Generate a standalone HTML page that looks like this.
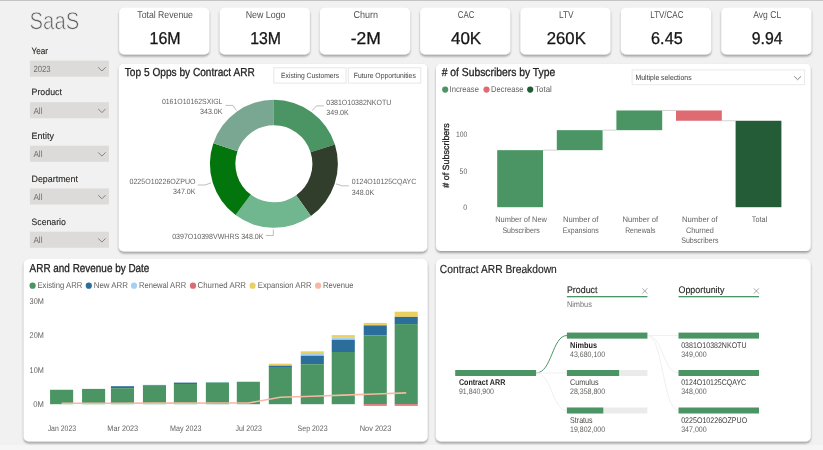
<!DOCTYPE html>
<html lang="en"><head><meta charset="utf-8"><title>SaaS</title>
<style>
html,body{margin:0;padding:0}
body{width:823px;height:450px;overflow:hidden;background:#f1f1f1;font-family:"Liberation Sans", sans-serif;position:relative}
.topbar{position:absolute;left:0;top:0;width:823px;height:1px;background:#c4c4c4}
.botbar{position:absolute;left:0;top:445px;width:823px;height:5px;background:#f6f6f6}
svg{position:absolute;left:0;top:0;overflow:visible}
svg text{font-family:"Liberation Sans", sans-serif;text-rendering:geometricPrecision}
</style></head><body>
<div class="topbar"></div><div class="botbar"></div>

<svg width="823" height="450" viewBox="0 0 823 450" role="img" aria-label="SaaS dashboard">
<defs><filter id="sh" x="-5%" y="-10%" width="110%" height="125%"><feGaussianBlur in="SourceAlpha" stdDeviation="0.55"/><feOffset dx="0.1" dy="0.4" result="o1"/><feComponentTransfer in="o1" result="s1"><feFuncA type="linear" slope="0.38"/></feComponentTransfer><feGaussianBlur in="SourceAlpha" stdDeviation="0.9"/><feOffset dx="0.3" dy="1.5" result="o2"/><feComponentTransfer in="o2" result="s2"><feFuncA type="linear" slope="0.34"/></feComponentTransfer><feMerge><feMergeNode in="s1"/><feMergeNode in="s2"/><feMergeNode in="SourceGraphic"/></feMerge></filter></defs>
<g filter="url(#sh)">
<rect x="119.10000000000001" y="7.2" width="90.3" height="47.2" rx="5" fill="#fff"/>
<rect x="219.6" y="7.2" width="90.3" height="47.2" rx="5" fill="#fff"/>
<rect x="319.8" y="7.2" width="90.3" height="47.2" rx="5" fill="#fff"/>
<rect x="420.09999999999997" y="7.2" width="90.3" height="47.2" rx="5" fill="#fff"/>
<rect x="520.3000000000001" y="7.2" width="90.3" height="47.2" rx="5" fill="#fff"/>
<rect x="620.9000000000001" y="7.2" width="90.3" height="47.2" rx="5" fill="#fff"/>
<rect x="721.2" y="7.2" width="90.3" height="47.2" rx="5" fill="#fff"/>
<rect x="118.7" y="63.4" width="308.6" height="188.0" rx="5" fill="#fff"/>
<rect x="436.0" y="63.4" width="374.8" height="187.7" rx="5" fill="#fff"/>
<rect x="23.6" y="259.1" width="404.1" height="182.4" rx="5" fill="#fff"/>
<rect x="435.8" y="259.0" width="375.0" height="182.5" rx="5" fill="#fff"/>
</g>
<rect x="29.9" y="60.6" width="79" height="16.1" fill="#dddbd9"/>
<rect x="29.9" y="102.2" width="79" height="16.1" fill="#dddbd9"/>
<rect x="29.9" y="145.7" width="79" height="16.1" fill="#dddbd9"/>
<rect x="29.9" y="188.4" width="79" height="16.1" fill="#dddbd9"/>
<rect x="29.9" y="231.7" width="79" height="16.1" fill="#dddbd9"/>
<text x="29.6" y="28.6" font-size="24.2" fill="#5c5c5c" stroke="#f1f1f1" stroke-width="0.7" textLength="49.6" lengthAdjust="spacingAndGlyphs">SaaS</text>
<text x="31.5" y="53.5" font-size="9.2" fill="#252423" textLength="16.6" lengthAdjust="spacingAndGlyphs" stroke="#252423" stroke-width="0.1">Year</text>
<text x="31.5" y="95.3" font-size="9.2" fill="#252423" textLength="30.4" lengthAdjust="spacingAndGlyphs" stroke="#252423" stroke-width="0.1">Product</text>
<text x="31.5" y="139" font-size="9.2" fill="#252423" textLength="22.4" lengthAdjust="spacingAndGlyphs" stroke="#252423" stroke-width="0.1">Entity</text>
<text x="31.5" y="181.6" font-size="9.2" fill="#252423" textLength="46.5" lengthAdjust="spacingAndGlyphs" stroke="#252423" stroke-width="0.1">Department</text>
<text x="31.5" y="224.9" font-size="9.2" fill="#252423" textLength="34.3" lengthAdjust="spacingAndGlyphs" stroke="#252423" stroke-width="0.1">Scenario</text>
<text x="33.4" y="72.3" font-size="8.9" fill="#72706e" textLength="17.2" lengthAdjust="spacingAndGlyphs">2023</text>
<path d="M98.2 67.3 L101.9 71.0 L105.6 67.3" fill="none" stroke="#7a7876" stroke-width="0.9"/>
<text x="33.4" y="113.9" font-size="8.9" fill="#72706e" textLength="9.1" lengthAdjust="spacingAndGlyphs">All</text>
<path d="M98.2 108.9 L101.9 112.60000000000001 L105.6 108.9" fill="none" stroke="#7a7876" stroke-width="0.9"/>
<text x="33.4" y="157.39999999999998" font-size="8.9" fill="#72706e" textLength="9.1" lengthAdjust="spacingAndGlyphs">All</text>
<path d="M98.2 152.39999999999998 L101.9 156.09999999999997 L105.6 152.39999999999998" fill="none" stroke="#7a7876" stroke-width="0.9"/>
<text x="33.4" y="200.1" font-size="8.9" fill="#72706e" textLength="9.1" lengthAdjust="spacingAndGlyphs">All</text>
<path d="M98.2 195.1 L101.9 198.79999999999998 L105.6 195.1" fill="none" stroke="#7a7876" stroke-width="0.9"/>
<text x="33.4" y="243.39999999999998" font-size="8.9" fill="#72706e" textLength="9.1" lengthAdjust="spacingAndGlyphs">All</text>
<path d="M98.2 238.39999999999998 L101.9 242.09999999999997 L105.6 238.39999999999998" fill="none" stroke="#7a7876" stroke-width="0.9"/>
<text x="165.10000000000002" y="18.0" font-size="9.9" fill="#505050" text-anchor="middle" textLength="55.6" lengthAdjust="spacingAndGlyphs">Total Revenue</text>
<text x="165.10000000000002" y="44.1" font-size="17.1" fill="#141414" text-anchor="middle" textLength="31" lengthAdjust="spacingAndGlyphs" stroke="#141414" stroke-width="0.3">16M</text>
<text x="265.6" y="18.0" font-size="9.9" fill="#505050" text-anchor="middle" textLength="39.9" lengthAdjust="spacingAndGlyphs">New Logo</text>
<text x="265.6" y="44.1" font-size="17.1" fill="#141414" text-anchor="middle" textLength="30.8" lengthAdjust="spacingAndGlyphs" stroke="#141414" stroke-width="0.3">13M</text>
<text x="365.8" y="18.0" font-size="9.9" fill="#505050" text-anchor="middle" textLength="24.6" lengthAdjust="spacingAndGlyphs">Churn</text>
<text x="365.8" y="44.1" font-size="17.1" fill="#141414" text-anchor="middle" textLength="30.1" lengthAdjust="spacingAndGlyphs" stroke="#141414" stroke-width="0.3">-2M</text>
<text x="466.09999999999997" y="18.0" font-size="9.9" fill="#505050" text-anchor="middle" textLength="16.6" lengthAdjust="spacingAndGlyphs">CAC</text>
<text x="466.09999999999997" y="44.1" font-size="17.1" fill="#141414" text-anchor="middle" textLength="30.2" lengthAdjust="spacingAndGlyphs" stroke="#141414" stroke-width="0.3">40K</text>
<text x="566.3000000000001" y="18.0" font-size="9.9" fill="#505050" text-anchor="middle" textLength="14.6" lengthAdjust="spacingAndGlyphs">LTV</text>
<text x="566.3000000000001" y="44.1" font-size="17.1" fill="#141414" text-anchor="middle" textLength="39" lengthAdjust="spacingAndGlyphs" stroke="#141414" stroke-width="0.3">260K</text>
<text x="666.9000000000001" y="18.0" font-size="9.9" fill="#505050" text-anchor="middle" textLength="33.2" lengthAdjust="spacingAndGlyphs">LTV/CAC</text>
<text x="666.9000000000001" y="44.1" font-size="17.1" fill="#141414" text-anchor="middle" textLength="31.6" lengthAdjust="spacingAndGlyphs" stroke="#141414" stroke-width="0.3">6.45</text>
<text x="767.2" y="18.0" font-size="9.9" fill="#505050" text-anchor="middle" textLength="27.900000000000002" lengthAdjust="spacingAndGlyphs">Avg CL</text>
<text x="767.2" y="44.1" font-size="17.1" fill="#141414" text-anchor="middle" textLength="30.7" lengthAdjust="spacingAndGlyphs" stroke="#141414" stroke-width="0.3">9.94</text>
<text x="124.8" y="76" font-size="11.6" fill="#252423" textLength="130" lengthAdjust="spacingAndGlyphs" stroke="#252423" stroke-width="0.3">Top 5 Opps by Contract ARR</text>
<rect x="273.8" y="67.8" width="72.2" height="15.3" fill="#fff" stroke="#e6e6e6" stroke-width="1"/>
<text x="281.0" y="77.9" font-size="7.5" fill="#454545" textLength="58.2" lengthAdjust="spacingAndGlyphs">Existing Customers</text>
<rect x="348.3" y="67.8" width="72.5" height="15.3" fill="#fff" stroke="#e6e6e6" stroke-width="1"/>
<text x="353.8" y="77.9" font-size="7.5" fill="#454545" textLength="62" lengthAdjust="spacingAndGlyphs">Future Opportunities</text>
<path d="M273.90 99.80 A64.0 64.0 0 0 1 334.91 144.46 L310.60 152.17 A38.5 38.5 0 0 0 273.90 125.30Z" fill="#4a9563"/>
<path d="M334.91 144.46 A64.0 64.0 0 0 1 310.95 215.98 L296.19 195.19 A38.5 38.5 0 0 0 310.60 152.17Z" fill="#323e2c"/>
<path d="M310.95 215.98 A64.0 64.0 0 0 1 235.54 215.03 L250.82 194.62 A38.5 38.5 0 0 0 296.19 195.19Z" fill="#70b68e"/>
<path d="M235.54 215.03 A64.0 64.0 0 0 1 213.33 143.14 L237.46 151.37 A38.5 38.5 0 0 0 250.82 194.62Z" fill="#03750d"/>
<path d="M213.33 143.14 A64.0 64.0 0 0 1 273.90 99.80 L273.90 125.30 A38.5 38.5 0 0 0 237.46 151.37Z" fill="#79a792"/>
<text x="222.5" y="103.8" font-size="7.6" fill="#646260" text-anchor="end" textLength="60.6" lengthAdjust="spacingAndGlyphs">0161O10162SXIGL</text>
<text x="222.5" y="114" font-size="7.6" fill="#646260" text-anchor="end" textLength="22.5" lengthAdjust="spacingAndGlyphs">343.0K</text>
<text x="326.3" y="104.6" font-size="7.6" fill="#646260" textLength="65" lengthAdjust="spacingAndGlyphs">0381O10382NKOTU</text>
<text x="326.3" y="114.6" font-size="7.6" fill="#646260" textLength="22.5" lengthAdjust="spacingAndGlyphs">349.0K</text>
<text x="195.5" y="184.0" font-size="7.6" fill="#646260" text-anchor="end" textLength="66" lengthAdjust="spacingAndGlyphs">0225O10226OZPUO</text>
<text x="195.5" y="193.6" font-size="7.6" fill="#646260" text-anchor="end" textLength="22.5" lengthAdjust="spacingAndGlyphs">347.0K</text>
<text x="351.8" y="184.4" font-size="7.6" fill="#646260" textLength="64.5" lengthAdjust="spacingAndGlyphs">0124O10125CQAYC</text>
<text x="351.8" y="194.9" font-size="7.6" fill="#646260" textLength="22.5" lengthAdjust="spacingAndGlyphs">348.0K</text>
<text x="172.2" y="238.6" font-size="7.6" fill="#646260" textLength="91.3" lengthAdjust="spacingAndGlyphs">0397O10398VWHRS 348.0K</text>
<path d="M225.5 105.4 H233 L236.2 110.3" fill="none" stroke="#adadad" stroke-width="0.8"/>
<path d="M324 105.9 H316.4 L312.2 110.5" fill="none" stroke="#adadad" stroke-width="0.8"/>
<path d="M197.8 185 H205 L211 182.9" fill="none" stroke="#adadad" stroke-width="0.8"/>
<path d="M348.8 185.8 H342.2 L336 183.9" fill="none" stroke="#adadad" stroke-width="0.8"/>
<path d="M265.8 235.5 H273.3 V229.5" fill="none" stroke="#adadad" stroke-width="0.8"/>
<text x="441.7" y="76" font-size="11.6" fill="#252423" textLength="113.6" lengthAdjust="spacingAndGlyphs" stroke="#252423" stroke-width="0.3"># of Subscribers by Type</text>
<rect x="632.1" y="69.9" width="172.5" height="14.8" fill="#fff" stroke="#eaeaea" stroke-width="1"/>
<text x="635.6" y="80" font-size="7.6" fill="#3a3a3a" textLength="56" lengthAdjust="spacingAndGlyphs">Multiple selections</text>
<path d="M794.2 76.3 L797.6 79.7 L801 76.3" fill="none" stroke="#666" stroke-width="0.8"/>
<circle cx="445.2" cy="89.6" r="3.1" fill="#4a9563"/>
<text x="449.6" y="92.4" font-size="8.5" fill="#646260" textLength="29.3" lengthAdjust="spacingAndGlyphs">Increase</text>
<circle cx="486.5" cy="89.6" r="3.1" fill="#df6b72"/>
<text x="491.1" y="92.4" font-size="8.5" fill="#646260" textLength="32.3" lengthAdjust="spacingAndGlyphs">Decrease</text>
<circle cx="530.2" cy="89.6" r="3.1" fill="#1f5c34"/>
<text x="535.1" y="92.4" font-size="8.5" fill="#646260" textLength="16.7" lengthAdjust="spacingAndGlyphs">Total</text>
<rect x="497.2" y="150.16" width="45.8" height="57.04" fill="#4a9563"/>
<rect x="556.8" y="130.17" width="45.8" height="19.99" fill="#4a9563"/>
<rect x="616.4" y="110.47" width="45.8" height="19.70" fill="#4a9563"/>
<rect x="676.0" y="110.47" width="45.8" height="10.29" fill="#df6b72"/>
<rect x="735.6" y="120.76" width="45.8" height="86.44" fill="#235c36"/>
<path d="M543.0 150.16 H556.8" stroke="#c8c8c8" stroke-width="0.8" fill="none"/>
<path d="M602.5999999999999 130.17 H616.4" stroke="#c8c8c8" stroke-width="0.8" fill="none"/>
<path d="M662.1999999999999 110.47 H676.0" stroke="#c8c8c8" stroke-width="0.8" fill="none"/>
<path d="M721.8 120.76 H735.6" stroke="#c8c8c8" stroke-width="0.8" fill="none"/>
<text x="467.2" y="210.2" font-size="8.0" fill="#646260" text-anchor="end" textLength="3.9" lengthAdjust="spacingAndGlyphs">0</text>
<text x="467.2" y="174.04999999999998" font-size="8.0" fill="#646260" text-anchor="end" textLength="7.6" lengthAdjust="spacingAndGlyphs">50</text>
<text x="467.2" y="136.6" font-size="8.0" fill="#646260" text-anchor="end" textLength="11.3" lengthAdjust="spacingAndGlyphs">100</text>
<text transform="translate(449.3,155.5) rotate(-90)" text-anchor="middle" font-size="9" fill="#252423" textLength="64.5" lengthAdjust="spacingAndGlyphs" stroke="#252423" stroke-width="0.3"># of Subscribers</text>
<text x="521.1" y="222.2" font-size="8.0" fill="#646260" text-anchor="middle" textLength="51.7" lengthAdjust="spacingAndGlyphs">Number of New</text>
<text x="521.1" y="232.6" font-size="8.0" fill="#646260" text-anchor="middle" textLength="37.4" lengthAdjust="spacingAndGlyphs">Subscribers</text>
<text x="580.6999999999999" y="222.2" font-size="8.0" fill="#646260" text-anchor="middle" textLength="35.6" lengthAdjust="spacingAndGlyphs">Number of</text>
<text x="580.6999999999999" y="232.6" font-size="8.0" fill="#646260" text-anchor="middle" textLength="36" lengthAdjust="spacingAndGlyphs">Expansions</text>
<text x="640.3" y="222.2" font-size="8.0" fill="#646260" text-anchor="middle" textLength="35.6" lengthAdjust="spacingAndGlyphs">Number of</text>
<text x="640.3" y="232.6" font-size="8.0" fill="#646260" text-anchor="middle" textLength="30.3" lengthAdjust="spacingAndGlyphs">Renewals</text>
<text x="699.9" y="222.2" font-size="8.0" fill="#646260" text-anchor="middle" textLength="35.6" lengthAdjust="spacingAndGlyphs">Number of</text>
<text x="699.9" y="232.6" font-size="8.0" fill="#646260" text-anchor="middle" textLength="27.9" lengthAdjust="spacingAndGlyphs">Churned</text>
<text x="699.9" y="243.0" font-size="8.0" fill="#646260" text-anchor="middle" textLength="37.4" lengthAdjust="spacingAndGlyphs">Subscribers</text>
<text x="759.5" y="222.2" font-size="8.0" fill="#646260" text-anchor="middle" textLength="15.4" lengthAdjust="spacingAndGlyphs">Total</text>
<text x="29.6" y="271.6" font-size="11.6" fill="#252423" textLength="119.8" lengthAdjust="spacingAndGlyphs" stroke="#252423" stroke-width="0.3">ARR and Revenue by Date</text>
<circle cx="32.6" cy="285.7" r="3.1" fill="#4a9563"/>
<text x="37.5" y="288.3" font-size="8.5" fill="#646260" textLength="44.7" lengthAdjust="spacingAndGlyphs">Existing ARR</text>
<circle cx="88.8" cy="285.7" r="3.1" fill="#2c6e9b"/>
<text x="93.7" y="288.3" font-size="8.5" fill="#646260" textLength="34.3" lengthAdjust="spacingAndGlyphs">New ARR</text>
<circle cx="134" cy="285.7" r="3.1" fill="#a3d1f5"/>
<text x="139" y="288.3" font-size="8.5" fill="#646260" textLength="47.1" lengthAdjust="spacingAndGlyphs">Renewal ARR</text>
<circle cx="193" cy="285.7" r="3.1" fill="#df6b72"/>
<text x="197.6" y="288.3" font-size="8.5" fill="#646260" textLength="48.4" lengthAdjust="spacingAndGlyphs">Churned ARR</text>
<circle cx="252.6" cy="285.7" r="3.1" fill="#ead15f"/>
<text x="257.8" y="288.3" font-size="8.5" fill="#646260" textLength="53.7" lengthAdjust="spacingAndGlyphs">Expansion ARR</text>
<circle cx="318.1" cy="285.7" r="3.1" fill="#f5b9a3"/>
<text x="323" y="288.3" font-size="8.5" fill="#646260" textLength="30.6" lengthAdjust="spacingAndGlyphs">Revenue</text>
<text x="43.8" y="406.9" font-size="8.3" fill="#646260" text-anchor="end" textLength="10.6" lengthAdjust="spacingAndGlyphs">0M</text>
<text x="43.8" y="372.53" font-size="8.3" fill="#646260" text-anchor="end" textLength="14.2" lengthAdjust="spacingAndGlyphs">10M</text>
<text x="43.8" y="338.15999999999997" font-size="8.3" fill="#646260" text-anchor="end" textLength="14.2" lengthAdjust="spacingAndGlyphs">20M</text>
<text x="43.8" y="303.78999999999996" font-size="8.3" fill="#646260" text-anchor="end" textLength="14.2" lengthAdjust="spacingAndGlyphs">30M</text>
<rect x="50.07" y="389.4" width="23.1" height="0.60" fill="#ead15f"/>
<rect x="50.07" y="390.0" width="23.1" height="14.20" fill="#4a9563"/>
<rect x="82.05" y="388.9" width="23.1" height="15.30" fill="#4a9563"/>
<rect x="110.94" y="386.2" width="23.1" height="2.00" fill="#2c6e9b"/>
<rect x="110.94" y="388.2" width="23.1" height="16.00" fill="#4a9563"/>
<rect x="142.92" y="384.8" width="23.1" height="0.50" fill="#a3d1f5"/>
<rect x="142.92" y="385.3" width="23.1" height="0.70" fill="#2c6e9b"/>
<rect x="142.92" y="386.0" width="23.1" height="18.20" fill="#4a9563"/>
<rect x="173.87" y="382.6" width="23.1" height="1.40" fill="#2c6e9b"/>
<rect x="173.87" y="384.0" width="23.1" height="20.20" fill="#4a9563"/>
<rect x="205.86" y="382.0" width="23.1" height="0.50" fill="#a3d1f5"/>
<rect x="205.86" y="382.5" width="23.1" height="21.70" fill="#4a9563"/>
<rect x="236.81" y="381.5" width="23.1" height="0.40" fill="#a3d1f5"/>
<rect x="236.81" y="381.9" width="23.1" height="22.30" fill="#4a9563"/>
<rect x="268.79" y="363.7" width="23.1" height="2.00" fill="#ead15f"/>
<rect x="268.79" y="365.7" width="23.1" height="1.30" fill="#2c6e9b"/>
<rect x="268.79" y="367.0" width="23.1" height="37.20" fill="#4a9563"/>
<rect x="300.77" y="351.3" width="23.1" height="1.70" fill="#ead15f"/>
<rect x="300.77" y="353.0" width="23.1" height="2.70" fill="#a3d1f5"/>
<rect x="300.77" y="355.7" width="23.1" height="8.50" fill="#2c6e9b"/>
<rect x="300.77" y="364.2" width="23.1" height="40.00" fill="#4a9563"/>
<rect x="331.72" y="335.1" width="23.1" height="2.70" fill="#ead15f"/>
<rect x="331.72" y="337.8" width="23.1" height="2.00" fill="#a3d1f5"/>
<rect x="331.72" y="339.8" width="23.1" height="12.20" fill="#2c6e9b"/>
<rect x="331.72" y="352.0" width="23.1" height="52.20" fill="#4a9563"/>
<rect x="363.71" y="322.9" width="23.1" height="2.50" fill="#ead15f"/>
<rect x="363.71" y="325.4" width="23.1" height="9.90" fill="#2c6e9b"/>
<rect x="363.71" y="335.3" width="23.1" height="68.90" fill="#4a9563"/>
<rect x="394.66" y="311.7" width="23.1" height="5.20" fill="#ead15f"/>
<rect x="394.66" y="316.9" width="23.1" height="7.20" fill="#2c6e9b"/>
<rect x="394.66" y="324.1" width="23.1" height="80.10" fill="#4a9563"/>
<rect x="363.71" y="404.2" width="23.1" height="1.6" fill="#df6b72"/>
<rect x="394.66" y="404.2" width="23.1" height="1.6" fill="#df6b72"/>
<polyline points="61.6,403.3 93.6,403.2 122.5,403.2 154.5,403.1 185.4,403.1 217.4,403.0 248.4,403.0 280.3,397.2 312.3,396.2 343.3,395.1 375.3,394.0 406.2,392.9" fill="none" stroke="#f5b9a3" stroke-width="1.6" stroke-linejoin="round"/>
<text x="61.87" y="431.4" font-size="8.0" fill="#646260" text-anchor="middle" textLength="28.4" lengthAdjust="spacingAndGlyphs">Jan 2023</text>
<text x="122.74029999999999" y="431.4" font-size="8.0" fill="#646260" text-anchor="middle" textLength="30.8" lengthAdjust="spacingAndGlyphs">Mar 2023</text>
<text x="185.674" y="431.4" font-size="8.0" fill="#646260" text-anchor="middle" textLength="31.4" lengthAdjust="spacingAndGlyphs">May 2023</text>
<text x="248.60770000000002" y="431.4" font-size="8.0" fill="#646260" text-anchor="middle" textLength="26.3" lengthAdjust="spacingAndGlyphs">Jul 2023</text>
<text x="312.5731" y="431.4" font-size="8.0" fill="#646260" text-anchor="middle" textLength="30" lengthAdjust="spacingAndGlyphs">Sep 2023</text>
<text x="375.5068" y="431.4" font-size="8.0" fill="#646260" text-anchor="middle" textLength="31.6" lengthAdjust="spacingAndGlyphs">Nov 2023</text>
<text x="439.8" y="272.6" font-size="11.6" fill="#252423" textLength="117" lengthAdjust="spacingAndGlyphs" stroke="#252423" stroke-width="0.15">Contract ARR Breakdown</text>
<text x="566.9" y="292.8" font-size="9.6" fill="#252423" textLength="30.6" lengthAdjust="spacingAndGlyphs" stroke="#252423" stroke-width="0.12">Product</text>
<text x="678.5" y="292.8" font-size="9.6" fill="#252423" textLength="46" lengthAdjust="spacingAndGlyphs" stroke="#252423" stroke-width="0.12">Opportunity</text>
<rect x="566.9" y="296" width="80.5" height="1.3" fill="#4a9563"/>
<rect x="678.5" y="296" width="80.5" height="1.3" fill="#4a9563"/>
<path d="M642.2 288.3 l5.2 5.3 M647.4000000000001 288.3 l-5.2 5.3" stroke="#959595" stroke-width="0.8" fill="none"/>
<path d="M753.8 288.3 l5.2 5.3 M759.0 288.3 l-5.2 5.3" stroke="#959595" stroke-width="0.8" fill="none"/>
<text x="566.9" y="306.7" font-size="8.2" fill="#747474" textLength="25" lengthAdjust="spacingAndGlyphs">Nimbus</text>
<path d="M536 373 C552 373 552 335.5 567 335.5" fill="none" stroke="#4a9563" stroke-width="1"/>
<path d="M536 373 H567" fill="none" stroke="#f0f0f0" stroke-width="1"/>
<path d="M536 373 C552 373 552 410.5 567 410.5" fill="none" stroke="#f0f0f0" stroke-width="1"/>
<path d="M647.4 335.5 H678.5" fill="none" stroke="#f0f0f0" stroke-width="1"/>
<path d="M647.4 335.5 C663 335.5 663 373 678.5 373" fill="none" stroke="#f0f0f0" stroke-width="1"/>
<path d="M647.4 335.5 C663 335.5 663 410.5 678.5 410.5" fill="none" stroke="#f0f0f0" stroke-width="1"/>
<rect x="455.2" y="370" width="80.9" height="6" fill="#4a9563"/>
<text x="458.9" y="385" font-size="8.4" fill="#252423" textLength="46.4" lengthAdjust="spacingAndGlyphs" font-weight="bold">Contract ARR</text>
<text x="458.9" y="393.8" font-size="8.0" fill="#646260" textLength="35.1" lengthAdjust="spacingAndGlyphs">91,840,900</text>
<rect x="566.9" y="332.6" width="80.5" height="6" fill="#ebebeb"/>
<rect x="566.9" y="332.6" width="80.5" height="6" fill="#4a9563"/>
<text x="570.1" y="347.6" font-size="8.4" fill="#252423" textLength="26.9" lengthAdjust="spacingAndGlyphs" font-weight="bold">Nimbus</text>
<text x="570.1" y="356.70000000000005" font-size="8.0" fill="#646260" textLength="35" lengthAdjust="spacingAndGlyphs">43,680,100</text>
<rect x="566.9" y="370" width="80.5" height="6" fill="#ebebeb"/>
<rect x="566.9" y="370" width="52.2" height="6" fill="#4a9563"/>
<text x="570.1" y="385.0" font-size="8.4" fill="#484644" textLength="28.4" lengthAdjust="spacingAndGlyphs">Cumulus</text>
<text x="570.1" y="394.1" font-size="8.0" fill="#646260" textLength="35" lengthAdjust="spacingAndGlyphs">28,358,800</text>
<rect x="566.9" y="407.5" width="80.5" height="6" fill="#ebebeb"/>
<rect x="566.9" y="407.5" width="36.4" height="6" fill="#4a9563"/>
<text x="570.1" y="422.9" font-size="8.4" fill="#484644" textLength="22.5" lengthAdjust="spacingAndGlyphs">Stratus</text>
<text x="570.1" y="431.6" font-size="8.0" fill="#646260" textLength="35" lengthAdjust="spacingAndGlyphs">19,802,000</text>
<rect x="678.5" y="332.6" width="80.5" height="6" fill="#4a9563"/>
<text x="681.2" y="347.8" font-size="8.2" fill="#3b3a39" textLength="65.3" lengthAdjust="spacingAndGlyphs">0381O10382NKOTU</text>
<text x="681.2" y="356.90000000000003" font-size="8.0" fill="#646260" textLength="25.5" lengthAdjust="spacingAndGlyphs">349,000</text>
<rect x="678.5" y="370" width="80.5" height="6" fill="#4a9563"/>
<text x="681.2" y="385.2" font-size="8.2" fill="#3b3a39" textLength="65" lengthAdjust="spacingAndGlyphs">0124O10125CQAYC</text>
<text x="681.2" y="394.3" font-size="8.0" fill="#646260" textLength="25.5" lengthAdjust="spacingAndGlyphs">348,000</text>
<rect x="678.5" y="407.5" width="80.5" height="6" fill="#4a9563"/>
<text x="681.2" y="422.7" font-size="8.2" fill="#3b3a39" textLength="66" lengthAdjust="spacingAndGlyphs">0225O10226OZPUO</text>
<text x="681.2" y="431.8" font-size="8.0" fill="#646260" textLength="25.5" lengthAdjust="spacingAndGlyphs">347,000</text>
</svg>
</body></html>
